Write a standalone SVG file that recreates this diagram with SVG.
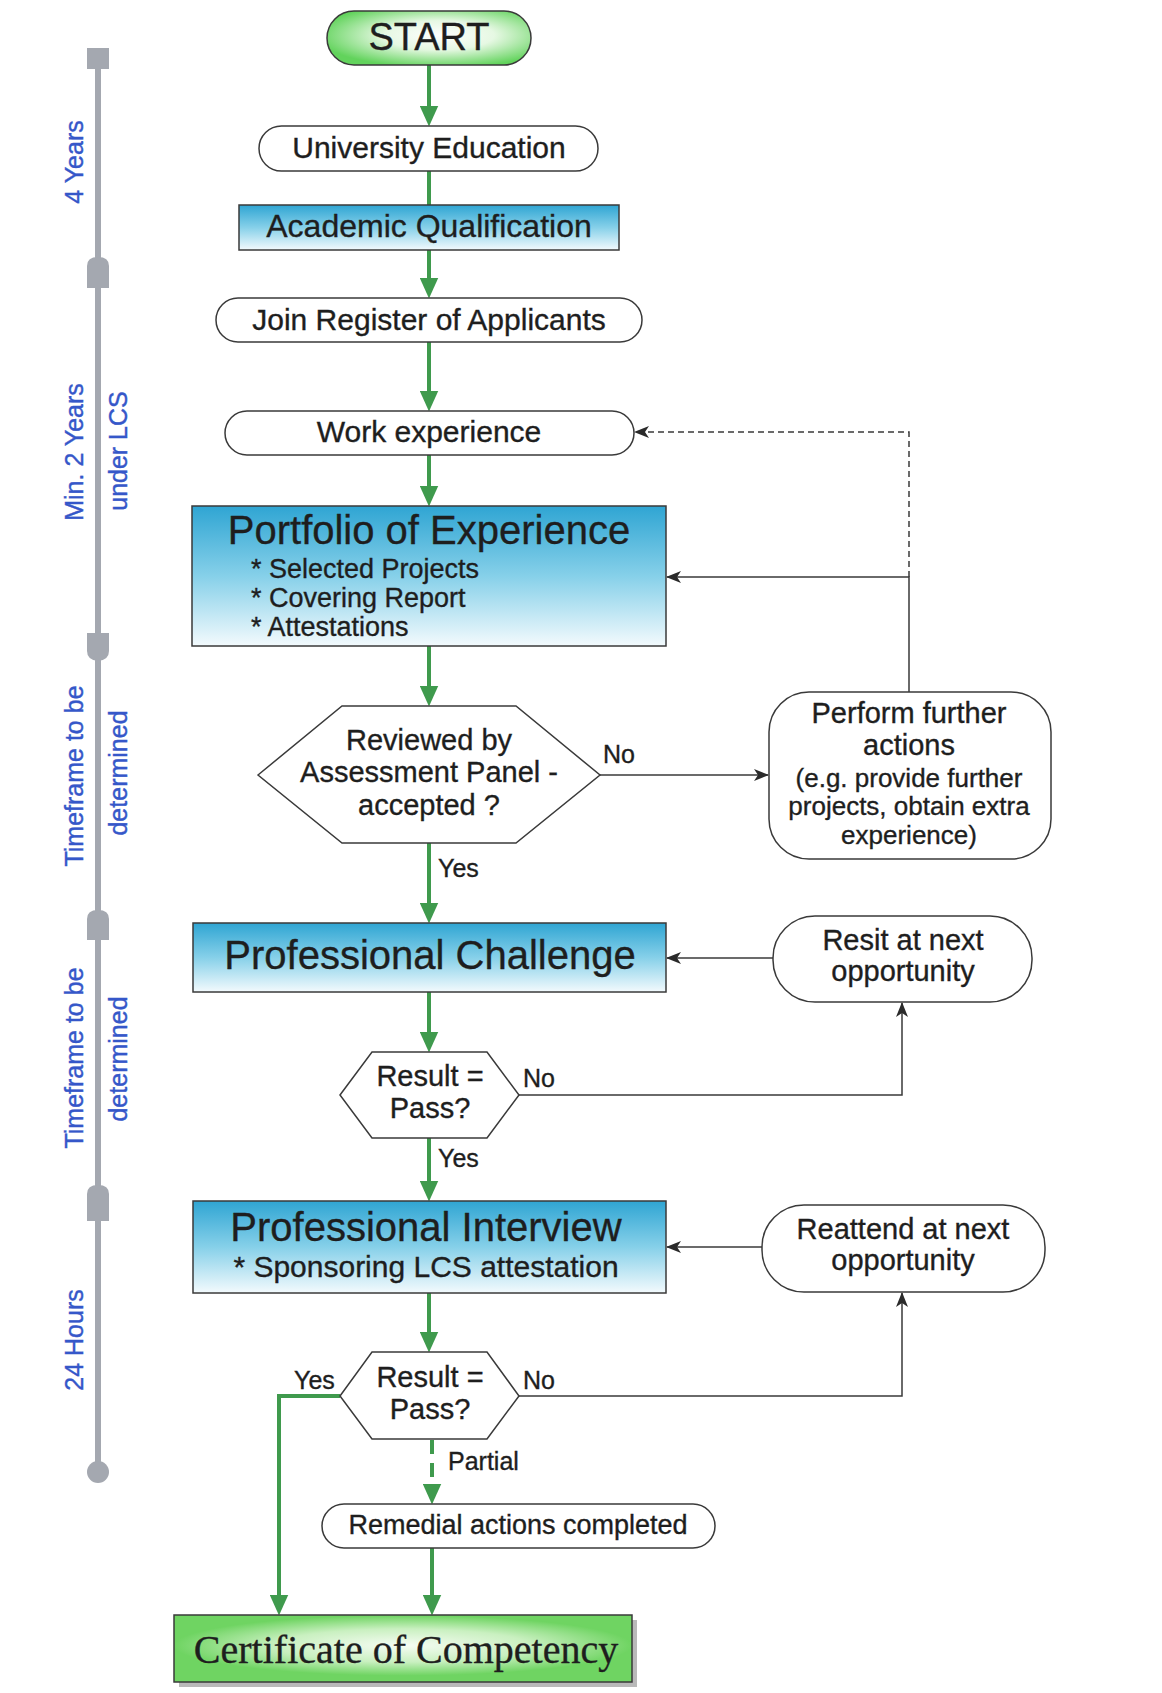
<svg xmlns="http://www.w3.org/2000/svg" width="1162" height="1693" viewBox="0 0 1162 1693">
<style>
  text { font-family: "Liberation Sans", Arial, sans-serif; fill: #1e1e1e; stroke: #1e1e1e; stroke-width: 0.35; }
  .c { text-anchor: middle; }
  .node { stroke: #3a3a3a; stroke-width: 1.5; }
  .pill { fill: #ffffff; }
  .box { fill: url(#blueGrad); }
  .hex { fill: #ffffff; }
  .g { stroke: #3f9a4d; stroke-width: 4; fill: none; }
  .k { stroke: #3a3a3a; stroke-width: 1.5; fill: none; }
  .dash { stroke-dasharray: 6 4; }
  .gdash { stroke-dasharray: 14 9; }
  .tl { stroke: #a4a8b0; stroke-width: 6; fill: none; }
  .tlcap { fill: #a4a8b0; }
  .lbl { font-size: 25px; fill: #3557c9; stroke: #3557c9; stroke-width: 0.4; text-anchor: middle; }
  .f30 { font-size: 30px; }
  .f29 { font-size: 29px; }
  .f27 { font-size: 27px; }
  .f26 { font-size: 26px; }
  .f25 { font-size: 25px; }
  .title { font-size: 40px; }
</style>
<defs>
  <linearGradient id="blueGrad" x1="0" y1="0" x2="0" y2="1">
    <stop offset="0" stop-color="#2fa5d3"/>
    <stop offset="0.5" stop-color="#86d0e9"/>
    <stop offset="1" stop-color="#f3fafd"/>
  </linearGradient>
  <radialGradient id="startGrad" cx="0.55" cy="0.45" r="0.6">
    <stop offset="0" stop-color="#ffffff"/>
    <stop offset="0.45" stop-color="#e6f8e3"/>
    <stop offset="1" stop-color="#62d35c"/>
  </radialGradient>
  <radialGradient id="certGrad" cx="0.5" cy="0.45" r="0.5" gradientTransform="translate(0,0.05) scale(1,0.9)">
    <stop offset="0" stop-color="#f6fcf4"/>
    <stop offset="0.55" stop-color="#c9f0c0"/>
    <stop offset="1" stop-color="#6fd462"/>
  </radialGradient>
  <marker id="ga" viewBox="0 0 20 18" refX="10" refY="9" markerWidth="21" markerHeight="19" markerUnits="userSpaceOnUse" orient="auto">
    <path d="M0,0 L20,9 L0,18 Z" fill="#3f9a4d"/>
  </marker>
  <marker id="ka" viewBox="0 0 15 12" refX="14" refY="6" markerWidth="15" markerHeight="12" markerUnits="userSpaceOnUse" orient="auto">
    <path d="M0,0 L15,6 L0,12 L4,6 Z" fill="#2a2a2a"/>
  </marker>
</defs>
<rect x="0" y="0" width="1162" height="1693" fill="#ffffff"/>

<g id="timeline">
  <line class="tl" x1="98" y1="58" x2="98" y2="1472"/>
  <rect class="tlcap" x="87" y="48" width="22" height="21"/>
  <path class="tlcap" d="M87,288 L87,266 Q87,257 98,257 Q109,257 109,266 L109,288 Z"/>
  <path class="tlcap" d="M87,633 L109,633 L109,651 Q109,660 98,661 Q87,660 87,651 Z"/>
  <path class="tlcap" d="M87,940 L87,919 Q87,910 98,910 Q109,910 109,919 L109,940 Z"/>
  <path class="tlcap" d="M87,1221 L87,1194 Q87,1185 98,1185 Q109,1185 109,1194 L109,1221 Z"/>
  <circle class="tlcap" cx="98" cy="1472" r="11"/>
  <text class="lbl" transform="translate(83,162) rotate(-90)">4 Years</text>
  <text class="lbl" transform="translate(83,452) rotate(-90)">Min. 2 Years</text>
  <text class="lbl" transform="translate(127,451) rotate(-90)">under LCS</text>
  <text class="lbl" transform="translate(83,776) rotate(-90)">Timeframe to be</text>
  <text class="lbl" transform="translate(127,773) rotate(-90)">determined</text>
  <text class="lbl" transform="translate(83,1058) rotate(-90)">Timeframe to be</text>
  <text class="lbl" transform="translate(127,1059) rotate(-90)">determined</text>
  <text class="lbl" transform="translate(83,1340) rotate(-90)">24 Hours</text>
</g>

<g id="connectors">
  <line class="g" x1="429" y1="65" x2="429" y2="116" marker-end="url(#ga)"/>
  <line class="g" x1="429" y1="171" x2="429" y2="205"/>
  <line class="g" x1="429" y1="250" x2="429" y2="288" marker-end="url(#ga)"/>
  <line class="g" x1="429" y1="342" x2="429" y2="401" marker-end="url(#ga)"/>
  <line class="g" x1="429" y1="455" x2="429" y2="496" marker-end="url(#ga)"/>
  <line class="g" x1="429" y1="646" x2="429" y2="696" marker-end="url(#ga)"/>
  <line class="g" x1="429" y1="843" x2="429" y2="913" marker-end="url(#ga)"/>
  <line class="k" x1="600" y1="775" x2="768" y2="775" marker-end="url(#ka)"/>
  <polyline class="k" points="909,692 909,577 667,577" marker-end="url(#ka)"/>
  <polyline class="k dash" points="909,577 909,432 635,432" marker-end="url(#ka)"/>
  <line class="k" x1="773" y1="958" x2="667" y2="958" marker-end="url(#ka)"/>
  <line class="g" x1="429" y1="992" x2="429" y2="1042" marker-end="url(#ga)"/>
  <polyline class="k" points="519,1095 902,1095 902,1003" marker-end="url(#ka)"/>
  <line class="g" x1="429" y1="1138" x2="429" y2="1191" marker-end="url(#ga)"/>
  <line class="k" x1="762" y1="1247" x2="667" y2="1247" marker-end="url(#ka)"/>
  <line class="g" x1="429" y1="1293" x2="429" y2="1342" marker-end="url(#ga)"/>
  <polyline class="k" points="519,1396 902,1396 902,1293" marker-end="url(#ka)"/>
  <polyline class="g" points="340,1396 279,1396 279,1605" marker-end="url(#ga)"/>
  <line class="g gdash" x1="432" y1="1440" x2="432" y2="1494" marker-end="url(#ga)"/>
  <line class="g" x1="432" y1="1548" x2="432" y2="1605" marker-end="url(#ga)"/>
  <text class="f25" x="603" y="763">No</text>
  <text class="f25" x="438" y="877">Yes</text>
  <text class="f25" x="523" y="1087">No</text>
  <text class="f25" x="438" y="1167">Yes</text>
  <text class="f25" x="294" y="1389">Yes</text>
  <text class="f25" x="523" y="1389">No</text>
  <text class="f25" x="448" y="1470">Partial</text>
</g>

<g id="start">
  <rect class="node" x="327" y="11" width="204" height="54" rx="27" fill="url(#startGrad)"/>
  <text class="c" x="429" y="50" font-size="38">START</text>
</g>
<g id="university">
  <rect class="node pill" x="259" y="126" width="339" height="45" rx="22.5"/>
  <text class="c f30" x="429" y="158">University Education</text>
</g>
<g id="academic">
  <rect class="node box" x="239" y="205" width="380" height="45"/>
  <text class="c" x="429" y="237" font-size="32">Academic Qualification</text>
</g>
<g id="join">
  <rect class="node pill" x="216" y="298" width="426" height="44" rx="22"/>
  <text class="c f30" x="429" y="330">Join Register of Applicants</text>
</g>
<g id="work">
  <rect class="node pill" x="225" y="411" width="409" height="44" rx="22"/>
  <text class="c f30" x="429" y="442">Work experience</text>
</g>
<g id="portfolio">
  <rect class="node box" x="192" y="506" width="474" height="140"/>
  <text class="c title" x="429" y="544">Portfolio of Experience</text>
  <text class="f27" x="251" y="578">* Selected Projects</text>
  <text class="f27" x="251" y="607">* Covering Report</text>
  <text class="f27" x="251" y="636">* Attestations</text>
</g>
<g id="review">
  <polygon class="node hex" points="258,775 342,706 516,706 600,775 516,843 342,843"/>
  <text class="c f29" x="429" y="750">Reviewed by</text>
  <text class="c f29" x="429" y="782">Assessment Panel -</text>
  <text class="c f29" x="429" y="815">accepted ?</text>
</g>
<g id="further">
  <rect class="node pill" x="769" y="692" width="282" height="167" rx="40"/>
  <text class="c f29" x="909" y="723">Perform further</text>
  <text class="c f29" x="909" y="755">actions</text>
  <text class="c f26" x="909" y="787">(e.g. provide further</text>
  <text class="c f26" x="909" y="815">projects, obtain extra</text>
  <text class="c f26" x="909" y="844">experience)</text>
</g>
<g id="challenge">
  <rect class="node box" x="193" y="923" width="473" height="69"/>
  <text class="c title" x="430" y="969">Professional Challenge</text>
</g>
<g id="resit">
  <rect class="node pill" x="773" y="916" width="259" height="86" rx="42"/>
  <text class="c f29" x="903" y="950">Resit at next</text>
  <text class="c f29" x="903" y="981">opportunity</text>
</g>
<g id="result1">
  <polygon class="node hex" points="340,1095 372,1052 487,1052 519,1095 487,1138 372,1138"/>
  <text class="c f29" x="430" y="1086">Result =</text>
  <text class="c f29" x="430" y="1118">Pass?</text>
</g>
<g id="interview">
  <rect class="node box" x="193" y="1201" width="473" height="92"/>
  <text class="c title" x="426" y="1241">Professional Interview</text>
  <text class="c f30" x="426" y="1277">* Sponsoring LCS attestation</text>
</g>
<g id="reattend">
  <rect class="node pill" x="762" y="1205" width="283" height="87" rx="42"/>
  <text class="c f29" x="903" y="1239">Reattend at next</text>
  <text class="c f29" x="903" y="1270">opportunity</text>
</g>
<g id="result2">
  <polygon class="node hex" points="340,1396 372,1352 487,1352 519,1396 487,1439 372,1439"/>
  <text class="c f29" x="430" y="1387">Result =</text>
  <text class="c f29" x="430" y="1419">Pass?</text>
</g>
<g id="remedial">
  <rect class="node pill" x="322" y="1504" width="393" height="44" rx="22"/>
  <text class="c f27" x="518" y="1534">Remedial actions completed</text>
</g>
<g id="certificate">
  <rect x="179" y="1620" width="458" height="67" fill="#8a8a8a" opacity="0.6"/>
  <rect class="node" x="174" y="1615" width="458" height="67" fill="url(#certGrad)"/>
  <text class="c" x="406" y="1663" font-size="40" style="font-family: 'Liberation Serif', 'Times New Roman', serif;">Certificate of Competency</text>
</g>
</svg>
